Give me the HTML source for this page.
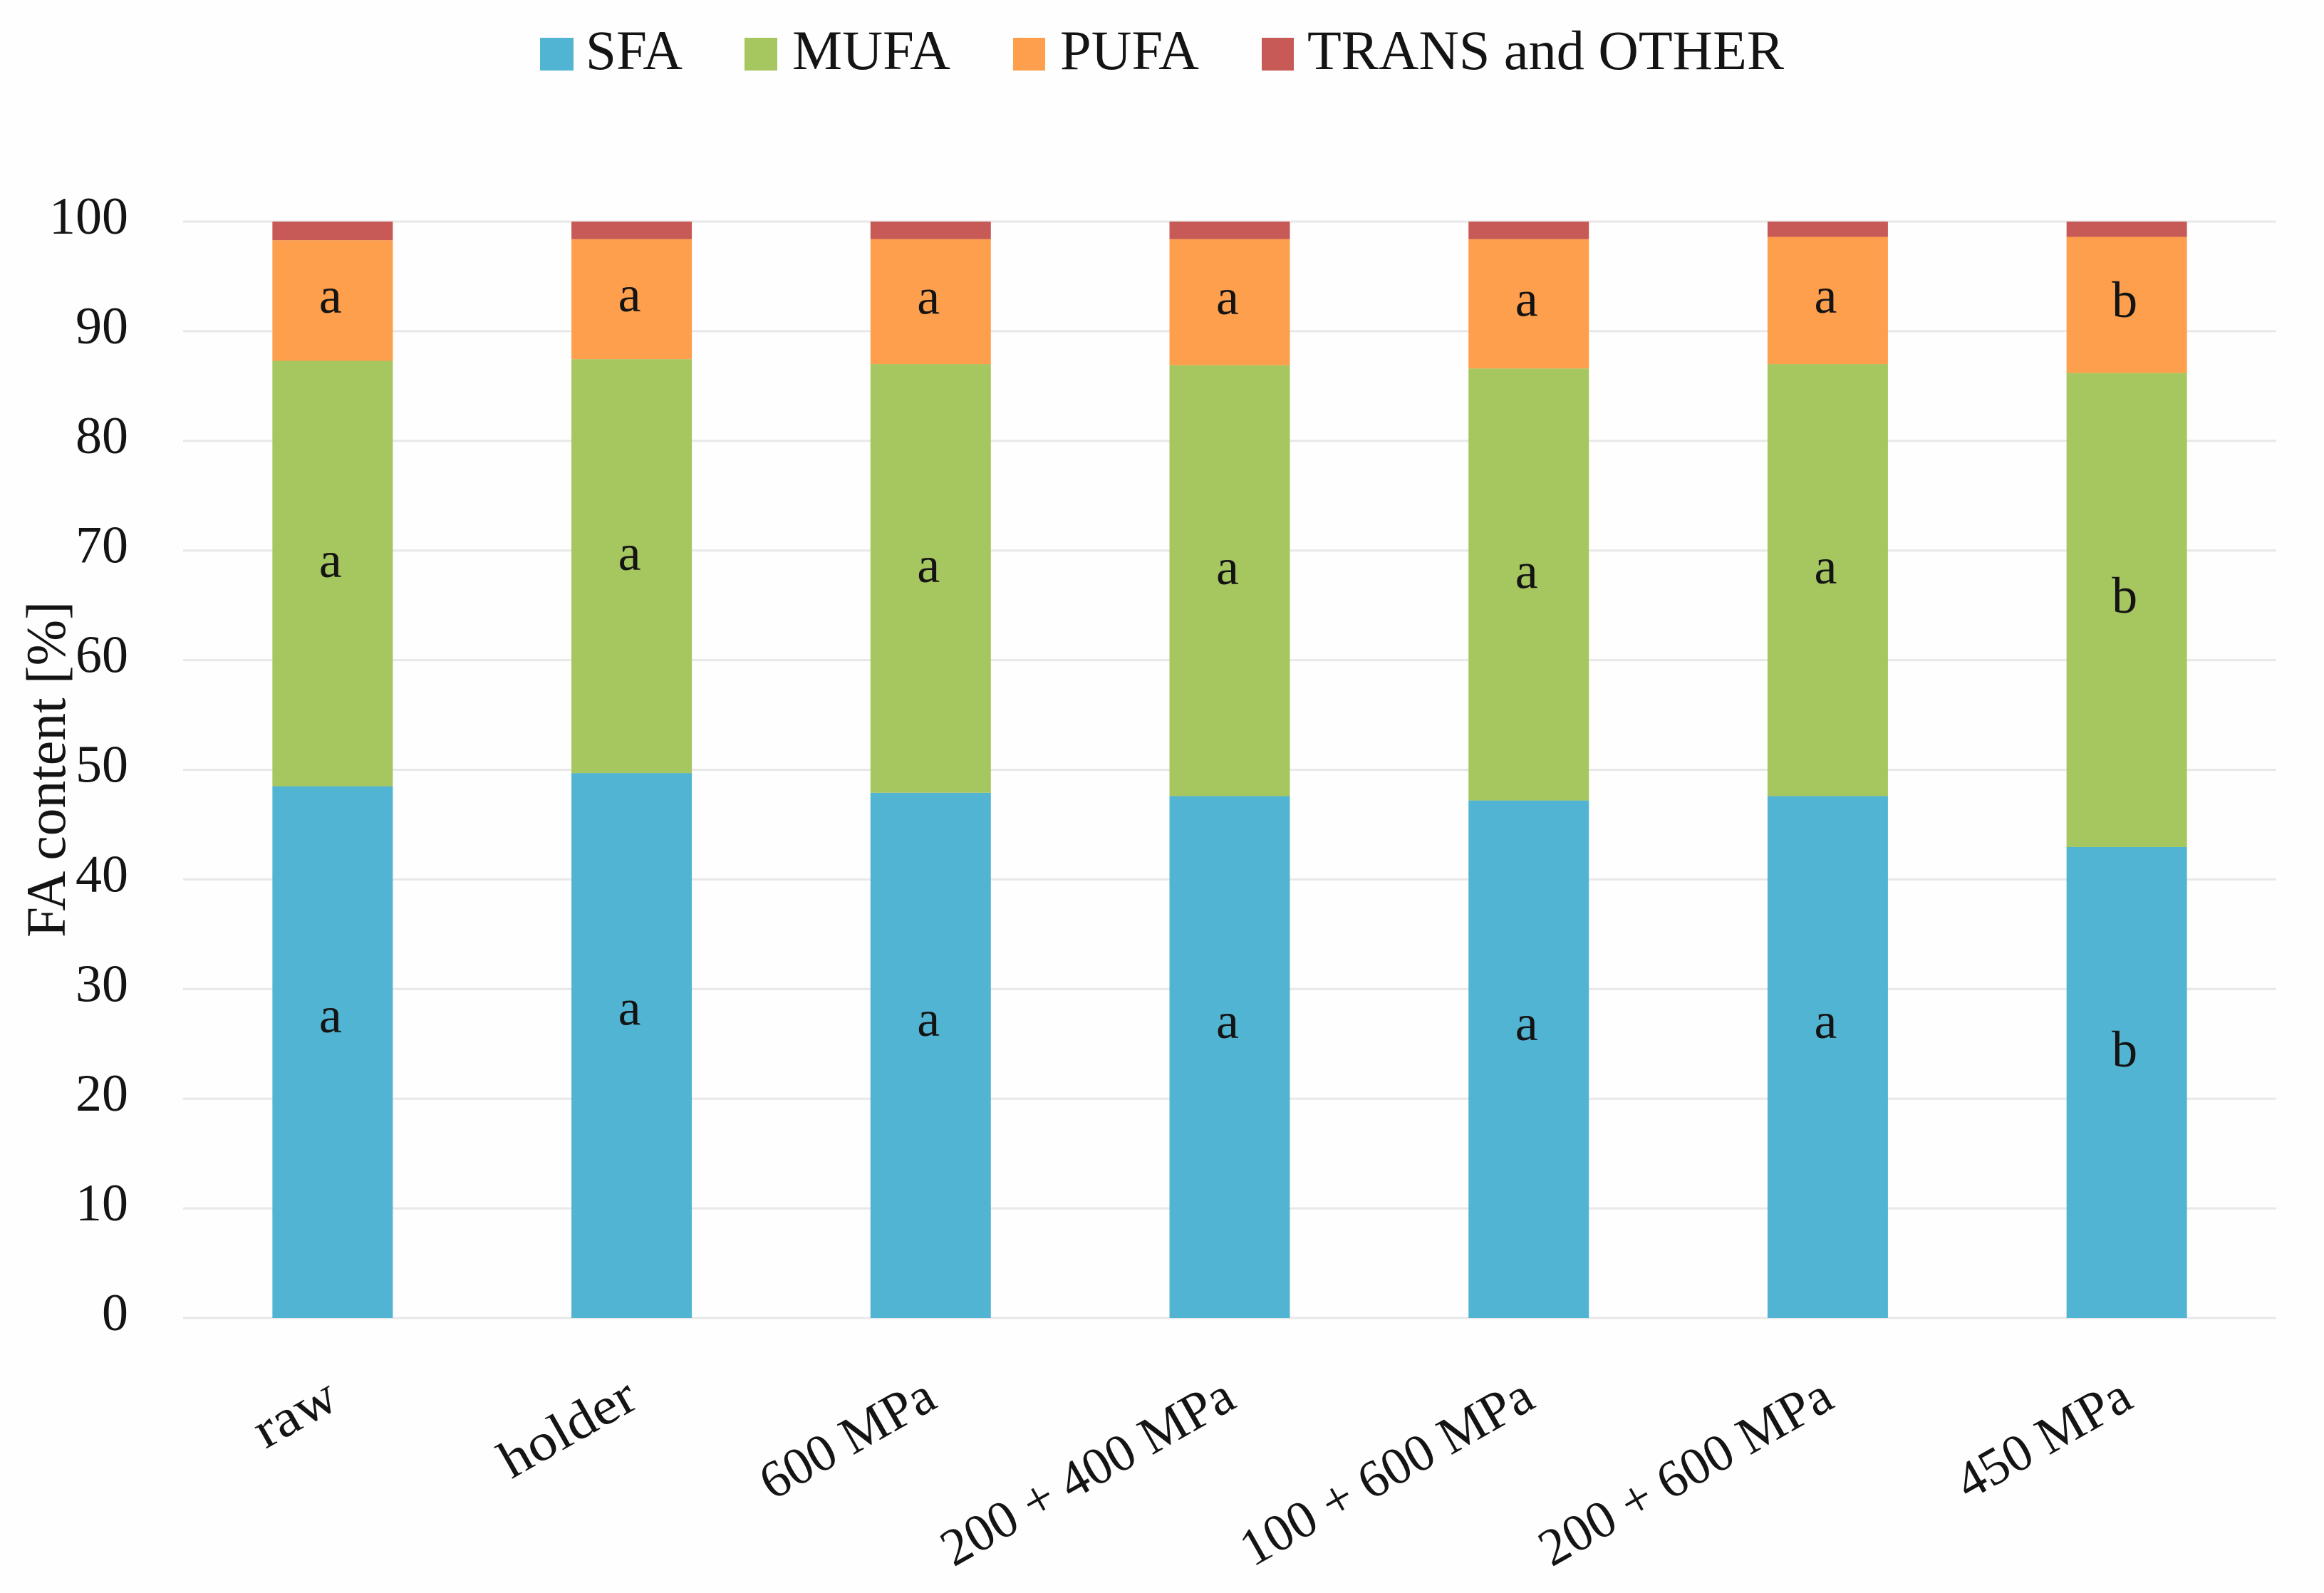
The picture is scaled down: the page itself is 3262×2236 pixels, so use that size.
<!DOCTYPE html>
<html lang="en">
<head>
<meta charset="utf-8">
<title>FA content stacked bars</title>
<style>
html,body{margin:0;padding:0;background:#fefefe;}
svg{display:block;}
text{font-family:"Liberation Serif","DejaVu Serif",serif;fill:#141414;}
</style>
</head>
<body>
<svg id="chart" xmlns="http://www.w3.org/2000/svg" width="3262" height="2236" viewBox="0 0 3262 2236">
  <rect x="0" y="0" width="3262" height="2236" fill="#fefefe"/>
  <g id="grid"></g>
  <g id="bars"></g>
  <g id="letters"></g>
  <g id="yaxis"></g>
  <g id="xaxis"></g>
  <text transform="translate(91,1316) rotate(-90)" font-size="78" textLength="472" lengthAdjust="spacingAndGlyphs">FA content [%]</text>
  <g>
    <g>
      <rect x="758" y="53" width="47" height="46" fill="#52b4d3"/>
      <text x="822" y="97" font-size="78" textLength="136" lengthAdjust="spacingAndGlyphs">SFA</text>
    </g>
    <g>
      <rect x="1045" y="53" width="46" height="46" fill="#a6c660"/>
      <text x="1112" y="97" font-size="78" textLength="222" lengthAdjust="spacingAndGlyphs">MUFA</text>
    </g>
    <g>
      <rect x="1422" y="53" width="45" height="46" fill="#fd9f4c"/>
      <text x="1488" y="97" font-size="78" textLength="195" lengthAdjust="spacingAndGlyphs">PUFA</text>
    </g>
    <g>
      <rect x="1771" y="53" width="45" height="46" fill="#c75a56"/>
      <text x="1835" y="97" font-size="78" textLength="669" lengthAdjust="spacingAndGlyphs">TRANS and OTHER</text>
    </g>
  </g>
</svg>
<script>
const categories = ['raw', 'holder', '600 MPa', '200 + 400 MPa', '100 + 600 MPa', '200 + 600 MPa', '450 MPa'];
const sfa = [48.5, 49.7, 47.9, 47.6, 47.2, 47.6, 42.95];
const mufa = [38.8, 37.75, 39.1, 39.3, 39.4, 39.4, 43.25];
const pufa = [11.0, 10.95, 11.4, 11.5, 11.8, 11.6, 12.4];
const transOther = [1.7, 1.6, 1.6, 1.6, 1.6, 1.4, 1.4];
const sfaLetters = ['a', 'a', 'a', 'a', 'a', 'a', 'b'];
const mufaLetters = ['a', 'a', 'a', 'a', 'a', 'a', 'b'];
const pufaLetters = ['a', 'a', 'a', 'a', 'a', 'a', 'b'];
const yTicks = [0, 10, 20, 30, 40, 50, 60, 70, 80, 90, 100];

const NS = 'http://www.w3.org/2000/svg';
const plotLeft = 257, plotRight = 3195, plotTop = 311, plotBottom = 1850, yMax = 100;
const band = (plotRight - plotLeft) / categories.length;
const barWidth = 169;
function xCenter(i) { return plotLeft + band * (i + 0.5); }
function yScale(v) { return plotBottom - (v / yMax) * (plotBottom - plotTop); }
function make(tag, attrs, parent) {
  const el = document.createElementNS(NS, tag);
  Object.keys(attrs).forEach(function (k) { el.setAttribute(k, attrs[k]); });
  parent.appendChild(el);
  return el;
}

const gridG = document.getElementById('grid');
const yG = document.getElementById('yaxis');
yTicks.forEach(function (t) {
  const line = make('line', {x1: plotLeft, x2: plotRight, y1: yScale(t), y2: yScale(t), stroke: '#e8e8e8', 'stroke-width': 3}, gridG);
  
  
  const label = make('text', {x: 180, y: yScale(t) + 17, 'text-anchor': 'end', 'font-size': 74}, yG);
  
  
  label.textContent = t;
});

const seriesList = [
  {key: 'sfa', values: sfa, letters: sfaLetters, color: '#52b4d3', frac: 0.56},
  {key: 'mufa', values: mufa, letters: mufaLetters, color: '#a6c660', frac: 0.52},
  {key: 'pufa', values: pufa, letters: pufaLetters, color: '#fd9f4c', frac: 0.5},
  {key: 'trans-other', values: transOther, letters: null, color: '#c75a56', frac: 0.5}
];
const barsG = document.getElementById('bars');
const lettersG = document.getElementById('letters');
const xG = document.getElementById('xaxis');
categories.forEach(function (cat, i) {
  let base = 0;
  seriesList.forEach(function (s) {
    const v = s.values[i];
    const top = yScale(base + v);
    const rect = make('rect', {x: xCenter(i) - barWidth / 2, y: top, width: barWidth, height: yScale(base) - top, fill: s.color}, barsG);
    
    
    if (s.letters) {
      const letter = make('text', {x: xCenter(i) - 3, y: yScale(base + v * s.frac) + 17, 'text-anchor': 'middle', 'font-size': 72}, lettersG);
      
      
      letter.textContent = s.letters[i];
    }
    base += v;
  });
  const stretch = /\d/.test(cat) ? 1 : 1.1;
  const tick = make('text', {'text-anchor': 'end', 'font-size': 74, transform: 'translate(' + (xCenter(i) + 12) + ',1974) rotate(-29.5) scale(' + stretch + ',1)'}, xG);
  
  
  tick.textContent = cat;
});
</script>
</body>
</html>
